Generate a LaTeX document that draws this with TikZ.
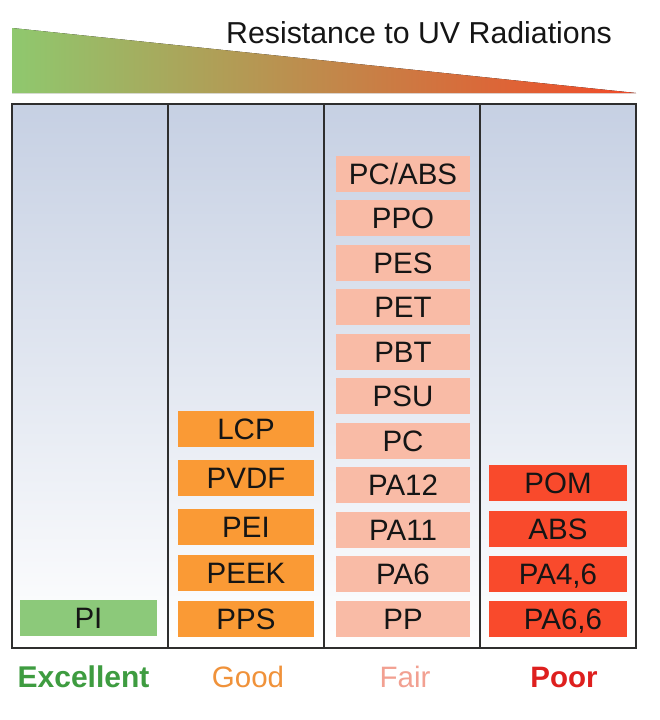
\documentclass[tikz,border=0pt]{standalone}
\usepackage{fontspec}
\setmainfont{Liberation Sans}
\definecolor{trigreen}{HTML}{8FC86E}
\definecolor{trimid}{HTML}{C99A55}
\definecolor{trired}{HTML}{F24A28}
\definecolor{tabtop}{HTML}{C6D0E3}
\definecolor{tabmid}{HTML}{E0E5EF}
\definecolor{exfill}{HTML}{8CC97A}
\definecolor{gdfill}{HTML}{FA9A35}
\definecolor{frfill}{HTML}{F9BBA6}
\definecolor{prfill}{HTML}{F94A2C}
\definecolor{extxt}{HTML}{3E9C40}
\definecolor{gdtxt}{HTML}{F0923A}
\definecolor{frtxt}{HTML}{F2A091}
\definecolor{prtxt}{HTML}{DE1F1E}
\definecolor{ink}{HTML}{151515}
\begin{document}
\begin{tikzpicture}[x=1pt,y=-1pt,
  lab/.style={inner sep=0pt, minimum height=36pt, text height=21pt, text depth=0pt,
    font=\fontsize{29.5}{33}\selectfont, text=ink},
  exbox/.style={lab, fill=exfill, minimum width=137pt},
  gdbox/.style={lab, fill=gdfill, minimum width=136pt},
  frbox/.style={lab, fill=frfill, minimum width=134pt},
  prbox/.style={lab, fill=prfill, minimum width=138pt},
  grade/.style={anchor=base, inner sep=0pt, font=\fontsize{29.5}{33}\selectfont},
  rule/.style={line width=1.8pt, draw=black!82}]
\useasboundingbox (0,0) rectangle (660,720);
\fill[white] (0,0) rectangle (660,720);
% gradient wedge
\fill[left color=trigreen, middle color=trimid, right color=trired]
  (12,28) -- (636,93) -- (12,93) -- cycle;
\node[anchor=base, inner sep=0pt, font=\fontsize{30.3}{34}\selectfont, text=ink]
  (title) at (419,43) {Resistance to UV Radiations};
% table background
\shade[top color=tabtop, middle color=tabmid, bottom color=white]
  (12,104) rectangle (636,648);
\draw[rule] (12,104) rectangle (636,648);
\draw[rule] (168,104) -- (168,648);
\draw[rule] (324,104) -- (324,648);
\draw[rule] (480,104) -- (480,648);
% Excellent
\node[exbox] (pi) at (88.5,617.5) {PI};
% Good
\node[gdbox] (lcp)  at (246,428.5) {LCP};
\node[gdbox] (pvdf) at (246,477.5) {PVDF};
\node[gdbox] (pei)  at (246,526.5) {PEI};
\node[gdbox] (peek) at (246,573) {PEEK};
\node[gdbox] (pps)  at (246,619) {PPS};
% Fair
\node[frbox] (pcabs) at (403,173.5) {PC/ABS};
\node[frbox] (ppo)   at (403,218) {PPO};
\node[frbox] (pes)   at (403,262.5) {PES};
\node[frbox] (pet)   at (403,307) {PET};
\node[frbox] (pbt)   at (403,351.5) {PBT};
\node[frbox] (psu)   at (403,396) {PSU};
\node[frbox] (pc)    at (403,440.5) {PC};
\node[frbox] (pa12)  at (403,485) {PA12};
\node[frbox] (pa11)  at (403,529.5) {PA11};
\node[frbox] (pa6)   at (403,574) {PA6};
\node[frbox] (pp)    at (403,618.5) {PP};
% Poor
\node[prbox] (pom)  at (558,482.5) {POM};
\node[prbox] (abs)  at (558,528.5) {ABS};
\node[prbox] (pa46) at (558,574) {PA4,6};
\node[prbox] (pa66) at (558,619) {\hspace{10pt}PA6,6};
% grades
\node[grade, text=extxt, font=\fontsize{30}{33}\selectfont\bfseries] (exc) at (83.5,687) {Excellent};
\node[grade, text=gdtxt] (good) at (248,687) {Good};
\node[grade, text=frtxt] (fair) at (405,687) {Fair};
\node[grade, text=prtxt, font=\fontsize{29.5}{33}\selectfont\bfseries] (poor) at (564,687) {Poor};
\end{tikzpicture}
\end{document}
